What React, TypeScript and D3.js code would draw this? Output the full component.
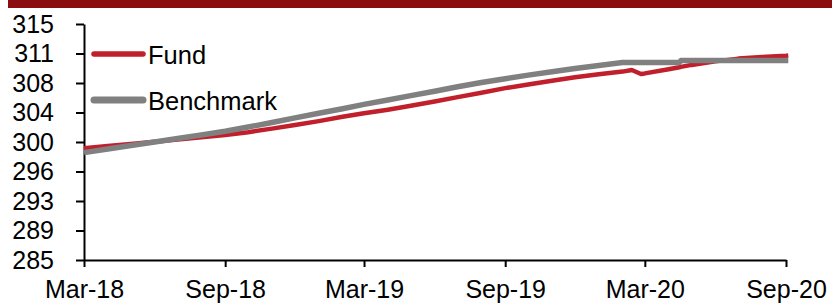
import React, { useEffect, useRef } from "react";
import * as d3 from "d3";

// series data
const dates: string[] = [
  "2018-03-01", "2018-04-01", "2018-05-01", "2018-06-01", "2018-07-01", "2018-08-01",
  "2018-09-01", "2018-10-01", "2018-11-01", "2018-12-01", "2019-01-01", "2019-02-01",
  "2019-03-01", "2019-04-01", "2019-05-01", "2019-06-01", "2019-07-01", "2019-08-01",
  "2019-09-01", "2019-10-01", "2019-11-01", "2019-12-01", "2020-01-01", "2020-02-01",
  "2020-02-13", "2020-02-25", "2020-03-01", "2020-04-01", "2020-04-15", "2020-04-17",
  "2020-05-01", "2020-06-01", "2020-07-01", "2020-08-01", "2020-09-01", "2020-09-04",
];

const fundValues: number[] = [
  299.2, 299.48, 299.76, 300.04, 300.32, 300.6,
  300.9, 301.25, 301.7, 302.15, 302.65, 303.2,
  303.65, 304.1, 304.6, 305.15, 305.7, 306.25,
  306.85, 307.3, 307.78, 308.22, 308.62, 308.95,
  309.15, 308.65, 308.72, 309.25, 309.5, 309.55,
  309.8, 310.25, 310.6, 310.8, 310.97, 311.0,
];

const benchmarkValues: number[] = [
  298.65, 299.1, 299.55, 300.0, 300.45, 300.9,
  301.37, 301.9, 302.48, 303.07, 303.65, 304.22,
  304.78, 305.34, 305.9, 306.46, 307.02, 307.56,
  308.05, 308.5, 308.93, 309.34, 309.73, 310.1,
  310.1, 310.1, 310.1, 310.1, 310.1, 310.35,
  310.35, 310.35, 310.35, 310.35, 310.35, 310.35,
];

const yTickValues: number[] = [285, 288.75, 292.5, 296.25, 300, 303.75, 307.5, 311.25, 315];
const xTickDates: string[] = ["2018-03-01", "2018-09-01", "2019-03-01", "2019-09-01", "2020-03-01", "2020-09-01"];

const seriesNames = ["Fund", "Benchmark"];

const WIDTH = 832;
const HEIGHT = 304;
const FONT = "'Liberation Sans', Arial, sans-serif";
const RED = "#C01F2B";
const GREY = "#808080";

const App: React.FC = () => {
  const svgRef = useRef<SVGSVGElement>(null);

  useEffect(() => {
    if (!svgRef.current) return;
    const svg = d3.select(svgRef.current);
    svg.selectAll("*").remove();

    const parse = d3.timeParse("%Y-%m-%d");
    const xs = dates.map((d) => parse(d) as Date);

    const x = d3
      .scaleTime()
      .domain([parse("2018-03-01") as Date, parse("2020-09-01") as Date])
      .range([84, 786]);
    const y = d3.scaleLinear().domain([285, 315]).range([260, 24]);

    // top banner
    svg
      .append("rect")
      .attr("x", 8)
      .attr("y", 0)
      .attr("width", WIDTH - 8)
      .attr("height", 8)
      .attr("fill", "#8A0E10");

    // y axis
    const yAxis = d3
      .axisLeft(y)
      .tickValues(yTickValues)
      .tickSize(8)
      .tickSizeOuter(0)
      .tickPadding(22)
      .tickFormat((d) => d3.format(".0f")(Math.round(+d)));

    const gy = svg.append("g").attr("transform", "translate(84,0)").call(yAxis);
    gy.select(".domain").attr("stroke", "#000").attr("stroke-width", 2);
    gy.selectAll(".tick line").attr("stroke", "#000").attr("stroke-width", 2);
    gy.selectAll(".tick text")
      .attr("fill", "#000")
      .style("font-family", FONT)
      .style("font-size", "25px");

    // x axis
    const xAxis = d3
      .axisBottom(x)
      .tickValues(xTickDates.map((d) => parse(d) as Date))
      .tickSize(7)
      .tickSizeOuter(0)
      .tickPadding(13)
      .tickFormat((d) => d3.timeFormat("%b-%y")(d as Date));

    const gx = svg.append("g").attr("transform", "translate(0,260)").call(xAxis);
    gx.select(".domain").attr("stroke", "#000").attr("stroke-width", 2);
    gx.selectAll(".tick line").attr("stroke", "#000").attr("stroke-width", 2);
    gx.selectAll(".tick text")
      .attr("fill", "#000")
      .style("font-family", FONT)
      .style("font-size", "25px");

    // lines (benchmark drawn on top)
    const line = d3
      .line<number>()
      .x((_, i) => x(xs[i]))
      .y((d) => y(d));

    svg
      .append("path")
      .datum(fundValues)
      .attr("d", line)
      .attr("fill", "none")
      .attr("stroke", RED)
      .attr("stroke-width", 4.5)
      .attr("stroke-linejoin", "round");

    svg
      .append("path")
      .datum(benchmarkValues)
      .attr("d", line)
      .attr("fill", "none")
      .attr("stroke", GREY)
      .attr("stroke-width", 5.5)
      .attr("stroke-linejoin", "round");

    // legend
    const legendColors = [RED, GREY];
    const legendWidths = [5.5, 7];
    const legend = svg
      .selectAll(".legend-item")
      .data(seriesNames)
      .enter()
      .append("g")
      .attr("class", "legend-item")
      .attr("transform", (_, i) => `translate(0, ${54 + i * 46})`);

    legend
      .append("line")
      .attr("x1", 94)
      .attr("x2", 143)
      .attr("y1", 0)
      .attr("y2", 0)
      .attr("stroke", (_, i) => legendColors[i])
      .attr("stroke-width", (_, i) => legendWidths[i])
      .attr("stroke-linecap", "round");

    legend
      .append("text")
      .attr("x", 148)
      .attr("y", 9.5)
      .style("font-family", FONT)
      .style("font-size", "25.5px")
      .style("fill", "#000")
      .text((d) => d);
  }, []);

  return (
    <div style={{ position: "absolute", left: 0, top: 0, background: "#fff" }}>
      <svg ref={svgRef} width={WIDTH} height={HEIGHT} style={{ display: "block" }} />
    </div>
  );
};

export default App;
